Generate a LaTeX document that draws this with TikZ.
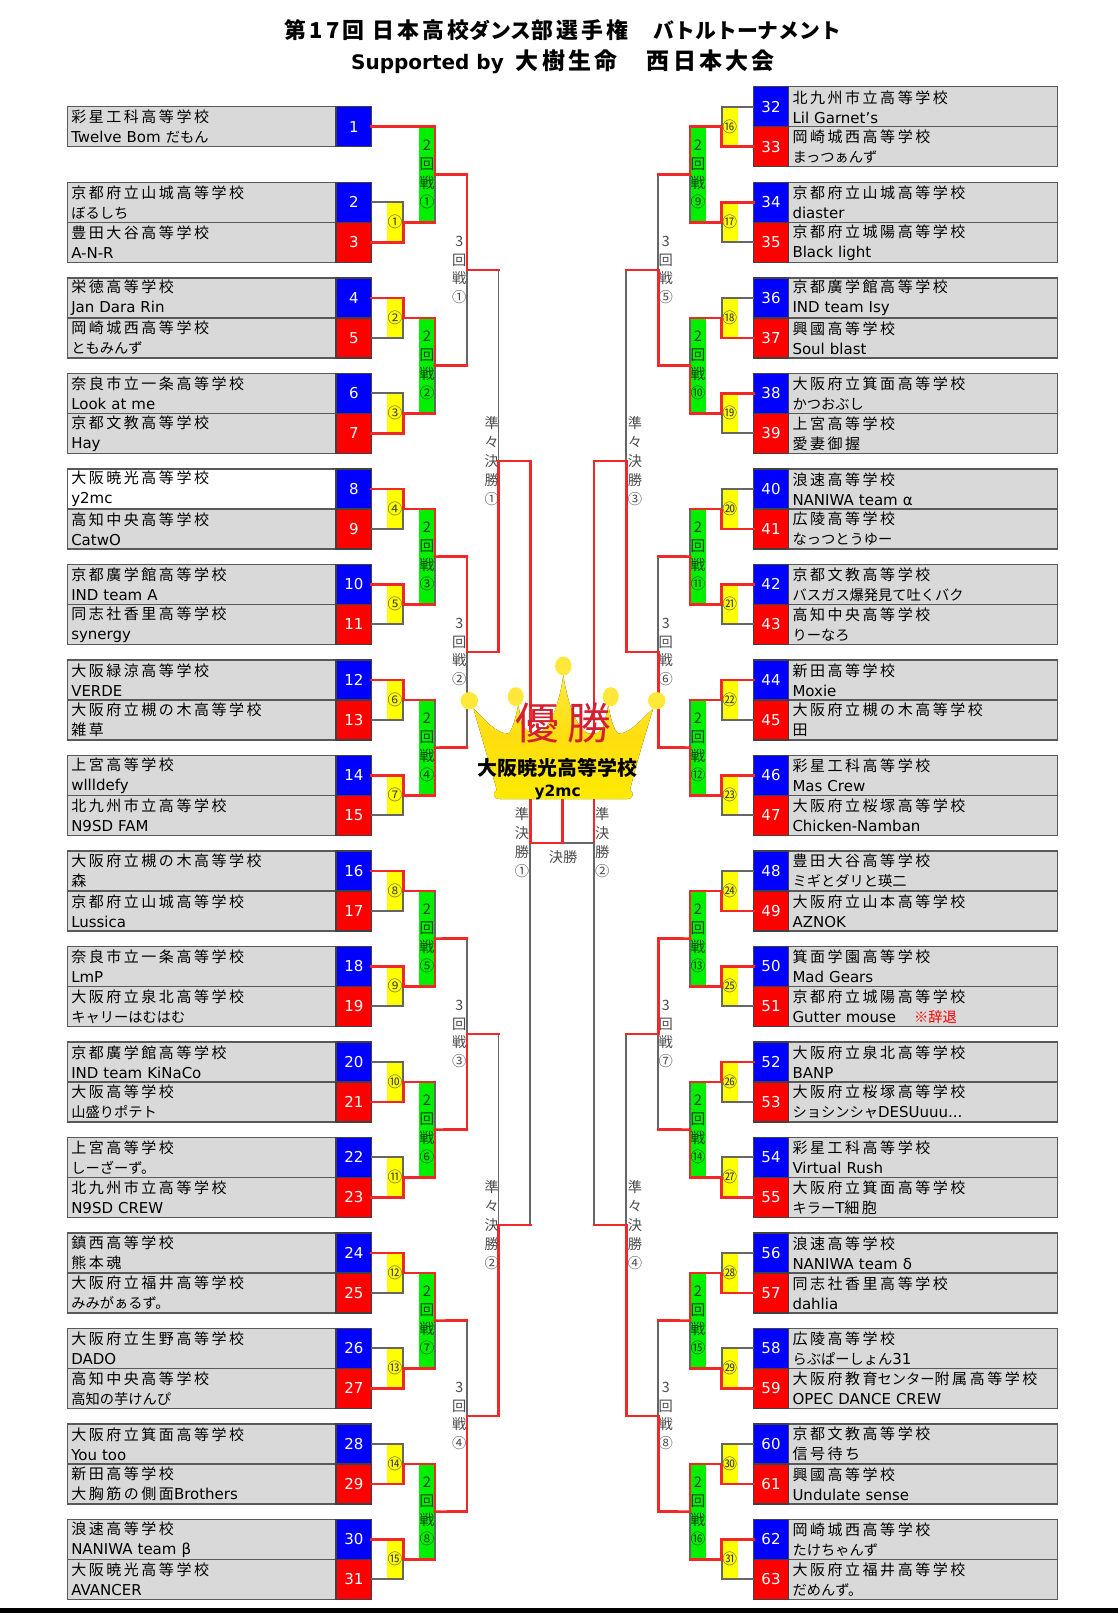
\documentclass[tikz,border=0pt]{standalone}
\usepackage{fontspec}
\setmainfont{DejaVu Sans}
\newfontfamily\jp[Scale=0.95]{Noto Sans CJK JP}
\newfontfamily\jps[LetterSpace=17]{Noto Sans CJK JP}
\newfontfamily\ttljp[LetterSpace=14]{Noto Sans CJK JP}
\definecolor{teamgray}{HTML}{D9D9D9}
\definecolor{edgegray}{HTML}{595959}
\definecolor{numblue}{HTML}{0000FF}
\definecolor{numred}{HTML}{FF0000}
\definecolor{wonred}{HTML}{F02828}
\definecolor{lostgray}{HTML}{666666}
\definecolor{boxyellow}{HTML}{FFFF00}
\definecolor{boxgreen}{HTML}{00F000}
\definecolor{crowngold}{HTML}{FFDE10}
\definecolor{crownlite}{HTML}{FFE83A}
\definecolor{crownfoot}{HTML}{FFEA00}
\definecolor{yuushored}{HTML}{D42030}
\tikzset{
  teambox/.style={draw=edgegray, line width=1.4pt, fill=teamgray, minimum width=268.5pt, minimum height=40pt,
    text width=261pt, align=left, inner xsep=3.5pt, inner ysep=0pt, outer sep=0pt, font=\fontsize{15}{20}\selectfont},
  team8/.style={fill=white},
  numbox/.style={draw=black!75, line width=1.4pt, minimum width=35.5pt, minimum height=40pt, inner sep=0pt, outer sep=0pt,
    text=white, font=\fontsize{15}{15}\selectfont},
  yelbox/.style={fill=boxyellow, minimum width=16.4pt, minimum height=40pt, inner sep=0pt, outer sep=0pt,
    text=black!75, font=\fontsize{15.5}{14}\selectfont},
  grnbox/.style={fill=boxgreen, minimum width=16pt, minimum height=95.5pt, inner sep=0pt, outer sep=0pt,
    align=center, text=black!75!green, font=\fontsize{15.5}{19}\selectfont},
  rndbox/.style={minimum width=31.7pt, minimum height=191pt, inner sep=0pt, outer sep=0pt},
  qfbox/.style={minimum width=31.7pt, minimum height=382pt, inner sep=0pt, outer sep=0pt},
  sfbox/.style={minimum width=32pt, minimum height=764pt, inner sep=0pt, outer sep=0pt},
  vlabel/.style={inner sep=0pt, outer sep=0pt, align=center, text=black!70, font=\fontsize{15}{18.8}\selectfont},
  wonline/.style={draw=wonred, line width=2.6pt, line cap=rect},
  lostline/.style={draw=lostgray, line width=1.8pt, line cap=rect},
}
% first round: the beaten side keeps a gray stub
\newcommand\firstbout[5]{%
  \if#5t
    \draw[lostline] (#2) -- (#3.south #4) -- (#3.#4);
    \draw[wonline] (#1) -- (#3.north #4) -- (#3.#4);
  \else
    \draw[lostline] (#1) -- (#3.north #4) -- (#3.#4);
    \draw[wonline] (#2) -- (#3.south #4) -- (#3.#4);
  \fi}
% later rounds: both stubs red, only the winner's half of the upright is red
\newcommand\bout[5]{%
  \draw[lostline] (#3.north #4) -- (#3.south #4);
  \if#5t
    \draw[wonline] (#3.north #4) -- (#3.#4);
  \else
    \draw[wonline] (#3.south #4) -- (#3.#4);
  \fi
  \draw[wonline] (#1) -- (#3.north #4);
  \draw[wonline] (#2) -- (#3.south #4);}
\begin{document}
\begin{tikzpicture}[x=1pt,y=-1pt]
\useasboundingbox (0,0) rectangle (1118,1613);
\node[inner sep=0pt, font=\fontsize{21.9}{20}\selectfont\bfseries] (title1) at (563,30) {{\ttljp 第17回 日本高校}{\jp ダンス}{\ttljp 部選手権　}{\jp バトルトーナメント}};
\node[inner sep=0pt, font=\fontsize{20}{20}\selectfont\bfseries] (title2) at (563,62) {Supported by\hspace{12pt}{\fontsize{23}{20}\selectfont\ttljp 大樹生命　西日本大会}};

% left teams
\node[teambox] (team1) at (201.75,126.8) {{\jps 彩星工科高等学校}\\Twelve Bom {\jp だもん}};
\node[numbox, fill=numblue] (num1) at (353.9,126.8) {1};
\foreach \n/\school/\crew in {
  2/京都府立山城高等学校/{\jp ぼるしち},
  3/豊田大谷高等学校/A-N-R,
  4/栄徳高等学校/Jan Dara Rin,
  5/岡崎城西高等学校/{\jp ともみんず},
  6/奈良市立一条高等学校/Look at me,
  7/京都文教高等学校/Hay,
  8/大阪暁光高等学校/y2mc,
  9/高知中央高等学校/CatwO,
  10/京都廣学館高等学校/IND team A,
  11/同志社香里高等学校/synergy,
  12/大阪緑涼高等学校/VERDE,
  13/大阪府立槻の木高等学校/{\jps 雑草},
  14/上宮高等学校/wllldefy,
  15/北九州市立高等学校/N9SD FAM,
  16/大阪府立槻の木高等学校/{\jps 森},
  17/京都府立山城高等学校/Lussica,
  18/奈良市立一条高等学校/LmP,
  19/大阪府立泉北高等学校/{\jp キャリーはむはむ},
  20/京都廣学館高等学校/IND team KiNaCo,
  21/大阪高等学校/{\jp 山盛りポテト},
  22/上宮高等学校/{\jp しーざーず。},
  23/北九州市立高等学校/N9SD CREW,
  24/鎮西高等学校/{\jps 熊本魂},
  25/大阪府立福井高等学校/{\jp みみがぁるず。},
  26/大阪府立生野高等学校/DADO,
  27/高知中央高等学校/{\jp 高知の芋けんぴ},
  28/大阪府立箕面高等学校/You too,
  29/新田高等学校/{\jps 大胸筋の側面}Brothers,
  30/浪速高等学校/NANIWA team β,
  31/大阪暁光高等学校/AVANCER}
{
  \pgfmathsetmacro\yy{126.8+95.5*floor(\n/2)+(mod(\n,2)==1?20:-20)}
  \ifodd\n \def\numcol{numred}\else \def\numcol{numblue}\fi
  \node[teambox, team\n/.try] (team\n) at (201.75,\yy) {{\jps\school}\\\crew};
  \node[numbox, fill=\numcol] (num\n) at (353.9,\yy) {\n};
}
% right teams
\foreach \n/\school/\crew in {
  32/北九州市立高等学校/Lil Garnet's,
  33/岡崎城西高等学校/{\jp まっつぁんず},
  34/京都府立山城高等学校/diaster,
  35/京都府立城陽高等学校/Black light,
  36/京都廣学館高等学校/IND team Isy,
  37/興國高等学校/Soul blast,
  38/大阪府立箕面高等学校/{\jp かつおぶし},
  39/上宮高等学校/{\jps 愛妻御握},
  40/浪速高等学校/NANIWA team α,
  41/広陵高等学校/{\jp なっつとうゆー},
  42/京都文教高等学校/{\jp バスガス爆発見て吐くバク},
  43/高知中央高等学校/{\jp りーなろ},
  44/新田高等学校/Moxie,
  45/大阪府立槻の木高等学校/{\jps 田},
  46/彩星工科高等学校/Mas Crew,
  47/大阪府立桜塚高等学校/Chicken-Namban,
  48/豊田大谷高等学校/{\jp ミギとダリと瑛二},
  49/大阪府立山本高等学校/AZNOK,
  50/箕面学園高等学校/Mad Gears,
  51/京都府立城陽高等学校/Gutter mouse\hspace{18pt}{\jp\color{numred}※辞退},
  52/大阪府立泉北高等学校/BANP,
  53/大阪府立桜塚高等学校/{\jp ショシンシャ}DESUuuu.{}.{}.,
  54/彩星工科高等学校/Virtual Rush,
  55/大阪府立箕面高等学校/{\jp キラー}T{\jps 細胞},
  56/浪速高等学校/NANIWA team δ,
  57/同志社香里高等学校/dahlia,
  58/広陵高等学校/{\jp らぶぱーしょん}31,
  59/大阪府教育{\jp センター}附属高等学校/OPEC DANCE CREW,
  60/京都文教高等学校/{\jps 信号待ち},
  61/興國高等学校/Undulate sense,
  62/岡崎城西高等学校/{\jp たけちゃんず},
  63/大阪府立福井高等学校/{\jp だめんず。}}
{
  \pgfmathsetmacro\yy{126.8+95.5*(floor(\n/2)-16)+(mod(\n,2)==1?20:-20)}
  \ifodd\n \def\numcol{numred}\else \def\numcol{numblue}\fi
  \node[teambox] (team\n) at (923,\yy) {{\jps\school}\\\crew};
  \node[numbox, fill=\numcol] (num\n) at (771,\yy) {\n};
}

% first round
\foreach \i/\w/\cir in {1/b/①,2/t/②,3/b/③,4/t/④,5/t/⑤,6/t/⑥,7/t/⑦,8/t/⑧,9/t/⑨,10/b/⑩,11/b/⑪,12/t/⑫,13/b/⑬,14/b/⑭,15/t/⑮}
{
  \pgfmathtruncatemacro\upper{2*\i}
  \pgfmathtruncatemacro\lower{2*\i+1}
  \node[yelbox] (yel\i) at (395,{126.8+95.5*\i}) {\jp\cir};
  \firstbout{num\upper.east}{num\lower.east}{yel\i}{east}{\w}
}
\foreach \i/\w/\cir in {16/b/⑯,17/t/⑰,18/b/⑱,19/t/⑲,20/b/⑳,21/t/㉑,22/t/㉒,23/t/㉓,24/b/㉔,25/t/㉕,26/t/㉖,27/b/㉗,28/b/㉘,29/b/㉙,30/b/㉚,31/t/㉛}
{
  \pgfmathtruncatemacro\upper{2*\i}
  \pgfmathtruncatemacro\lower{2*\i+1}
  \node[yelbox] (yel\i) at (729.8,{126.8+95.5*(\i-16)}) {\jp\cir};
  \firstbout{num\upper.west}{num\lower.west}{yel\i}{west}{\w}
}

% second round
\foreach \j/\w/\cir/\upper/\lower in {1/t/①/num1/yel1,2/t/②/yel2/yel3,3/t/③/yel4/yel5,4/b/④/yel6/yel7,5/b/⑤/yel8/yel9,6/b/⑥/yel10/yel11,7/t/⑦/yel12/yel13,8/t/⑧/yel14/yel15}
{
  \node[grnbox] (grn\j) at (427,{174.55+191*(\j-1)}) {\jp 2\\\jp 回\\\jp 戦\\\jp\cir};
  \bout{\upper.east}{\lower.east}{grn\j}{east}{\w}
}
\foreach \j/\w/\cir/\upper/\lower in {9/t/⑨/yel16/yel17,10/b/⑩/yel18/yel19,11/b/⑪/yel20/yel21,12/b/⑫/yel22/yel23,13/t/⑬/yel24/yel25,14/b/⑭/yel26/yel27,15/t/⑮/yel28/yel29,16/t/⑯/yel30/yel31}
{
  \node[grnbox] (grn\j) at (698,{174.55+191*(\j-9)}) {\jp 2\\\jp 回\\\jp 戦\\\jp\cir};
  \bout{\upper.west}{\lower.west}{grn\j}{west}{\w}
}

% third round
\foreach \k/\w/\cir/\upper/\lower in {1/t/①/grn1/grn2,2/t/②/grn3/grn4,3/b/③/grn5/grn6,4/b/④/grn7/grn8}
{
  \node[rndbox] (rnd\k) at (451,{270+382*(\k-1)}) {};
  \node[vlabel] (rlab\k) at (459.3,{270+382*(\k-1)}) {\jp 3\\\jp 回\\\jp 戦\\\jp\cir};
  \bout{\upper.east}{\lower.east}{rnd\k}{east}{\w}
}
\foreach \k/\w/\cir/\upper/\lower in {5/b/⑤/grn9/grn10,6/b/⑥/grn11/grn12,7/t/⑦/grn13/grn14,8/b/⑧/grn15/grn16}
{
  \node[rndbox] (rnd\k) at (674.2,{270+382*(\k-5)}) {};
  \node[vlabel] (rlab\k) at (665.7,{270+382*(\k-5)}) {\jp 3\\\jp 回\\\jp 戦\\\jp\cir};
  \bout{\upper.west}{\lower.west}{rnd\k}{west}{\w}
}

% quarter finals
\node[qfbox] (qf1) at (482.6,461) {};
\node[qfbox] (qf2) at (482.6,1225) {};
\node[qfbox] (qf3) at (642.2,461) {};
\node[qfbox] (qf4) at (642.2,1225) {};
\bout{rnd1.east}{rnd2.east}{qf1}{east}{b}
\bout{rnd3.east}{rnd4.east}{qf2}{east}{b}
\bout{rnd5.west}{rnd6.west}{qf3}{west}{b}
\bout{rnd7.west}{rnd8.west}{qf4}{west}{b}
\node[vlabel] (qlab1) at (491.7,461) {\jp 準\\\jp 々\\\jp 決\\\jp 勝\\\jp ①};
\node[vlabel] (qlab2) at (491.7,1225) {\jp 準\\\jp 々\\\jp 決\\\jp 勝\\\jp ②};
\node[vlabel] (qlab3) at (635,461) {\jp 準\\\jp 々\\\jp 決\\\jp 勝\\\jp ③};
\node[vlabel] (qlab4) at (635,1225) {\jp 準\\\jp 々\\\jp 決\\\jp 勝\\\jp ④};

% semi finals and final
\node[sfbox] (sf1) at (514.2,843) {};
\node[sfbox] (sf2) at (610,843) {};
\bout{qf1.east}{qf2.east}{sf1}{east}{t}
\bout{qf3.west}{qf4.west}{sf2}{west}{t}
\node[vlabel] (slab1) at (522,842.5) {\jp 準\\\jp 決\\\jp 勝\\\jp ①};
\node[vlabel] (slab2) at (602.3,842.5) {\jp 準\\\jp 決\\\jp 勝\\\jp ②};
\coordinate (fin) at (562.3,843);
\coordinate (crownbase) at (562.3,799);
\draw[lostline] (sf2.west) -- (fin);
\draw[wonline] (sf1.east) -- (fin) -- (crownbase);
\node[vlabel] (finlab) at (563,857) {\jp 決勝};

% crown
\fill[top color=crownlite, bottom color=crownfoot, middle color=crowngold]
  (473.3,708.3) .. controls (485,720) and (498,735) .. (508.3,733.3)
  .. controls (513,730) and (516,715) .. (518.3,705)
  -- (522,725) .. controls (530,735) and (535,735) .. (540,732.7)
  .. controls (552,725) and (560,700) .. (563.3,675)
  .. controls (567,700) and (575,725) .. (586.7,732.7)
  .. controls (592,735) and (600,735) .. (604,725) -- (608.3,705)
  .. controls (610,715) and (613,730) .. (618.3,733.3)
  .. controls (628,735) and (641,720) .. (653.3,708.3)
  .. controls (645,735) and (636,765) .. (630,790)
  .. controls (634,792) and (634,799) .. (626.7,799)
  -- (500,799) .. controls (493,799) and (492,792) .. (496.7,790)
  .. controls (490,765) and (481,735) .. (473.3,708.3) -- cycle;
\fill[crownlite] (469.3,700.7) circle (8.7);
\fill[crownlite] (656.7,700.7) circle (8.7);
\fill[crownlite] (563.3,666) ellipse (8.2 and 9.5);
\fill[crownlite] (515.7,696.7) ellipse (8 and 9.5);
\fill[crownlite] (610.7,696.7) ellipse (8 and 9.5);
\node[inner sep=0pt, text=yuushored, font=\fontsize{46}{44}\selectfont] (yuusho) at (563,723) {\jp 優\hspace{8pt}勝};
\node[inner sep=0pt, font=\fontsize{21}{20}\selectfont\bfseries] (champ) at (557.5,767.7) {\jp 大阪暁光高等学校};
\node[inner sep=0pt, font=\fontsize{15.5}{20}\selectfont\bfseries] (champcrew) at (557.7,792) {y2mc};

\fill[black] (0,1608.3) rectangle (1118,1613);
\end{tikzpicture}
\end{document}
